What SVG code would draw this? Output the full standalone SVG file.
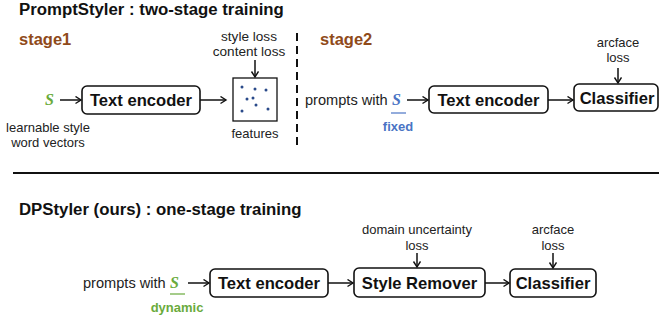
<svg xmlns="http://www.w3.org/2000/svg" width="659" height="322" viewBox="0 0 659 322">
<defs>
<marker id="arr" markerWidth="8" markerHeight="10" refX="6.5" refY="4" orient="auto" markerUnits="userSpaceOnUse">
<path d="M1,0.5 L6.5,4 L1,7.5" fill="none" stroke="#111" stroke-width="1.4"/>
</marker>
</defs>
<style>
.t{font-family:"Liberation Sans",Arial,sans-serif;font-size:13px;fill:#222}
.p{font-family:"Liberation Sans",Arial,sans-serif;font-size:14.6px;fill:#222}
.title{font-family:"Liberation Sans",Arial,sans-serif;font-size:16.8px;font-weight:bold;fill:#111}
.stage{font-family:"Liberation Sans",Arial,sans-serif;font-size:16.5px;font-weight:bold;fill:#8f4a1a}
.box{fill:#fff;stroke:#111;stroke-width:1.6}
.bl{font-family:"Liberation Sans",Arial,sans-serif;font-size:16.6px;font-weight:bold;fill:#111;text-anchor:middle}
.c{text-anchor:middle}
.sv{font-family:"Liberation Serif","Times New Roman",serif;font-style:italic;font-weight:bold;font-size:16px}
.con{stroke:#111;stroke-width:1.5;fill:none;marker-end:url(#arr)}
.dot{fill:#2a4a8a}
</style>

<text class="title" x="19" y="15">PromptStyler : two-stage training</text>
<text class="stage" x="19" y="45">stage1</text>
<text class="stage" x="320" y="45">stage2</text>
<line x1="297" y1="33" x2="297" y2="146" stroke="#111" stroke-width="2" stroke-dasharray="8,5"/>

<g id="s1">
<text class="sv" x="45" y="105" fill="#6aab3c">S</text>
<text class="t c" x="48" y="132">learnable style</text>
<text class="t c" x="48" y="147">word vectors</text>
</g>
<g id="textenc1">
<rect class="box" x="82" y="86" width="118" height="28" rx="5"/>
<text class="bl" x="141" y="106">Text encoder</text>
</g>
<g id="features">
<rect x="233" y="78" width="44" height="43" fill="#fff" stroke="#111" stroke-width="1.3"/>
<circle class="dot" cx="242" cy="87" r="1.5"/>
<circle class="dot" cx="255" cy="89" r="1.5"/>
<circle class="dot" cx="266" cy="90" r="1.5"/>
<circle class="dot" cx="247" cy="99" r="1.5"/>
<circle class="dot" cx="253" cy="98" r="1.5"/>
<circle class="dot" cx="256" cy="105" r="1.5"/>
<circle class="dot" cx="242" cy="111" r="1.5"/>
<circle class="dot" cx="268" cy="109" r="1.5"/>
<text class="t c" x="255" y="138">features</text>
</g>
<g id="loss1">
<text class="t c" x="249" y="41" style="font-size:13.6px">style loss</text>
<text class="t c" x="249" y="56" style="font-size:13.6px">content loss</text>
</g>

<g id="prompt2">
<text class="p" x="305" y="105">prompts with</text>
<text class="sv" x="392" y="105" fill="#4a74c4">S</text>
<line x1="391" y1="113" x2="406" y2="113" stroke="#4a74c4" stroke-width="1.2"/>
<text class="t c" x="398" y="131" style="font-weight:bold;fill:#4a74c4">fixed</text>
</g>
<g id="textenc2">
<rect class="box" x="429" y="86" width="119" height="27" rx="5"/>
<text class="bl" x="488.5" y="105.5">Text encoder</text>
</g>
<g id="classifier1">
<rect class="box" x="574" y="84" width="84" height="27" rx="5"/>
<text class="bl" x="617" y="103.5">Classifier</text>
</g>
<g id="loss2">
<text class="t c" x="618" y="47">arcface</text>
<text class="t c" x="618" y="62">loss</text>
</g>

<line x1="13" y1="173" x2="659" y2="173" stroke="#111" stroke-width="2"/>

<text class="title" x="19" y="215">DPStyler (ours) : one-stage training</text>

<g id="prompt3">
<text class="p" x="83" y="288">prompts with</text>
<text class="sv" x="170" y="288" fill="#6aab3c">S</text>
<line x1="170" y1="294" x2="185" y2="294" stroke="#6aab3c" stroke-width="1.2"/>
<text class="t c" x="177" y="312" style="font-weight:bold;fill:#6aab3c">dynamic</text>
</g>
<g id="textenc3">
<rect class="box" x="210" y="269" width="118" height="28" rx="5"/>
<text class="bl" x="269" y="289">Text encoder</text>
</g>
<g id="remover">
<rect class="box" x="354" y="268" width="131" height="29" rx="5"/>
<text class="bl" x="419.5" y="289">Style Remover</text>
</g>
<g id="classifier2">
<rect class="box" x="510" y="269" width="86" height="28" rx="5"/>
<text class="bl" x="553" y="289">Classifier</text>
</g>
<g id="loss3">
<text class="t c" x="417" y="234">domain uncertainty</text>
<text class="t c" x="417" y="250">loss</text>
</g>
<g id="loss4">
<text class="t c" x="553" y="234">arcface</text>
<text class="t c" x="553" y="250">loss</text>
</g>

<g id="connectors">
<line class="con" x1="60" y1="100" x2="81" y2="100"/>
<line class="con" x1="200" y1="100" x2="226" y2="100"/>
<line class="con" x1="255" y1="60" x2="255" y2="77"/>
<line class="con" x1="407" y1="100" x2="428" y2="100"/>
<line class="con" x1="548" y1="100" x2="573" y2="100"/>
<line class="con" x1="618" y1="68" x2="618" y2="83"/>
<line class="con" x1="188" y1="283" x2="209" y2="283"/>
<line class="con" x1="328" y1="283" x2="353" y2="283"/>
<line class="con" x1="417" y1="253" x2="417" y2="267"/>
<line class="con" x1="485" y1="283" x2="509" y2="283"/>
<line class="con" x1="553" y1="253" x2="553" y2="268"/>
</g>
</svg>
